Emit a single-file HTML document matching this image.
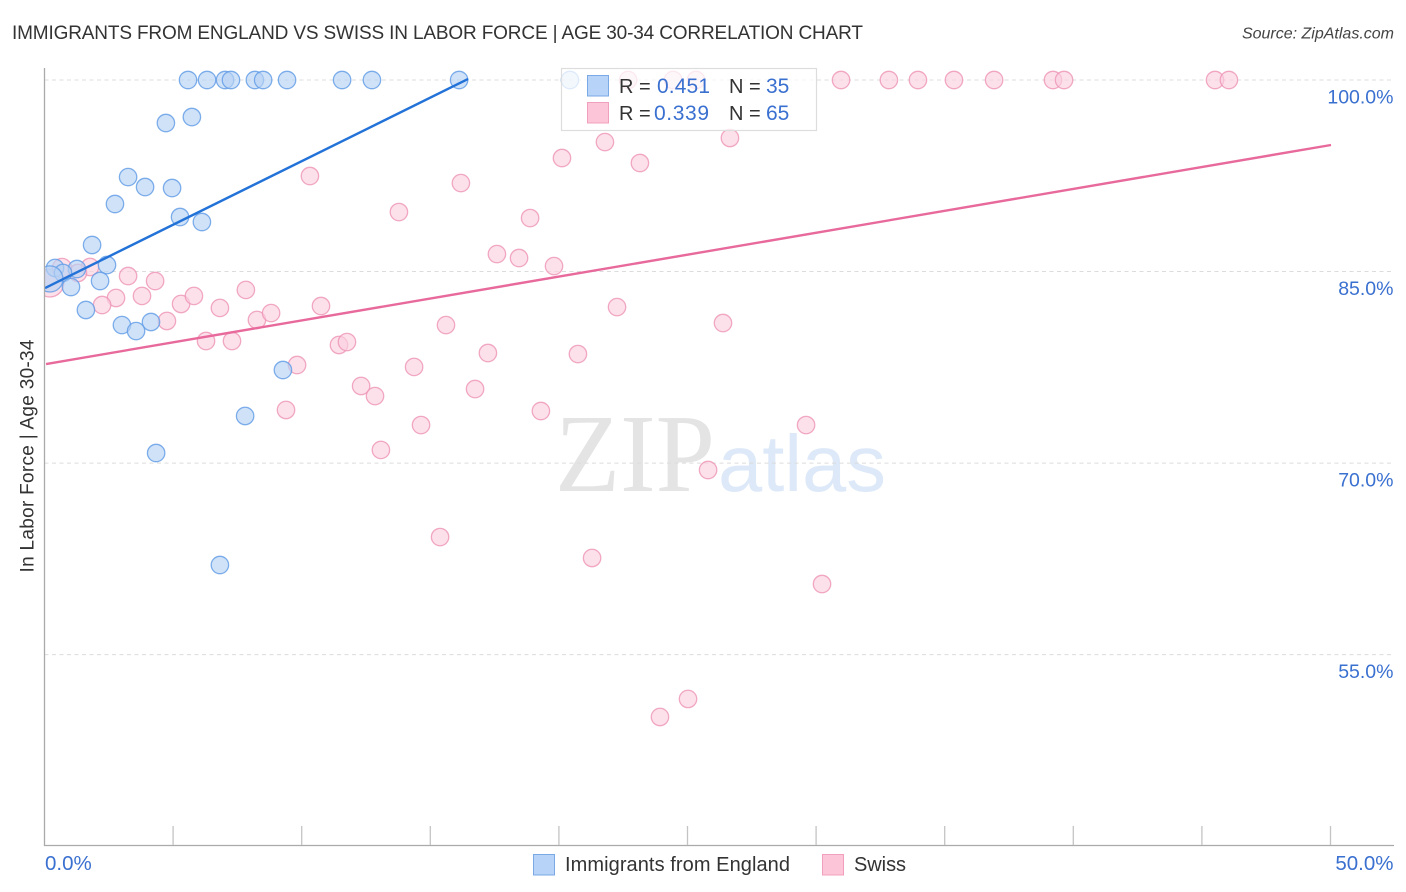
<!DOCTYPE html>
<html lang="en">
<head>
<meta charset="utf-8">
<title>Immigrants from England vs Swiss in Labor Force | Age 30-34 Correlation Chart</title>
<style>
html,body{margin:0;padding:0;background:#fff;}
svg{display:block;font-family:"Liberation Sans",sans-serif;}
</style>
</head>
<body>
<svg id="chart" xmlns="http://www.w3.org/2000/svg" width="1406" height="892" viewBox="0 0 1406 892">
  <defs>
    <clipPath id="plot-clip"><rect x="44.5" y="60" width="1350" height="785"/></clipPath>
  </defs>
  <text x="12" y="39" font-size="19" fill="#333" textLength="851" lengthAdjust="spacing">IMMIGRANTS FROM ENGLAND VS SWISS IN LABOR FORCE | AGE 30-34 CORRELATION CHART</text>
  <text x="1394" y="38.5" font-size="16" font-style="italic" fill="#444" text-anchor="end">Source: ZipAtlas.com</text>

  <g>
    <text x="555" y="491" font-family="'Liberation Serif',serif" font-size="111" fill="#e4e4e4" textLength="160" lengthAdjust="spacingAndGlyphs">ZIP</text>
    <text x="718" y="491" font-family="'Liberation Sans',sans-serif" font-size="80" fill="#dde9f8" textLength="168" lengthAdjust="spacingAndGlyphs">atlas</text>
  </g>

  <g id="grid"></g>
  <g id="points" clip-path="url(#plot-clip)"></g>
  <g id="trends"></g>
  <g id="axes"></g>

  <text transform="translate(33.5,456) rotate(-90)" font-size="19" fill="#333" text-anchor="middle" textLength="233" lengthAdjust="spacing">In Labor Force | Age 30-34</text>

  <g>
    <rect x="561.5" y="68.5" width="255" height="62" fill="#fff" fill-opacity="0.75" stroke="#ddd" stroke-width="1.2"/>
    <rect x="587.5" y="75.5" width="21" height="20.5" fill="#b7d3f7" stroke="#7aa9e6" stroke-width="1"/>
    <rect x="587.5" y="102.5" width="21" height="20.5" fill="#fcc6d8" stroke="#f0a0bc" stroke-width="1"/>
    <g font-size="20">
      <text x="619" y="93" fill="#333">R =</text>
      <text x="657" y="93" fill="#3a70d0" font-size="21" textLength="53" lengthAdjust="spacing">0.451</text>
      <text x="729" y="93" fill="#333">N =</text>
      <text x="766" y="93" fill="#3a70d0" font-size="21">35</text>
      <text x="619" y="120" fill="#333">R =</text>
      <text x="654" y="120" fill="#3a70d0" font-size="21" textLength="55" lengthAdjust="spacing">0.339</text>
      <text x="729" y="120" fill="#333">N =</text>
      <text x="766" y="120" fill="#3a70d0" font-size="21">65</text>
    </g>
  </g>

  <g>
    <rect x="533.5" y="854.5" width="21" height="20.5" fill="#b7d3f7" stroke="#7aa9e6" stroke-width="1"/>
    <text x="565" y="871" font-size="20" fill="#333" textLength="225" lengthAdjust="spacing">Immigrants from England</text>
    <rect x="822.5" y="854.5" width="21" height="20.5" fill="#fcc6d8" stroke="#f0a0bc" stroke-width="1"/>
    <text x="854" y="871" font-size="20" fill="#333" textLength="52" lengthAdjust="spacing">Swiss</text>
  </g>
</svg>
<script>
const yGridValues = [100, 85, 70, 55];
const yTickLabels = ["100.0%", "85.0%", "70.0%", "55.0%"];
const xTickValues = [0, 5, 10, 15, 20, 25, 30, 35, 40, 45, 50];
const xEndLabels = ["0.0%", "50.0%"];

const englandX = [5.58,6.32,7.02,7.25,8.18,8.50,9.43,11.57,12.73,16.12,20.43,4.72,5.73,3.25,3.91,4.96,2.74,5.27,6.12,1.85,1.26,2.43,0.41,0.72,2.16,1.03,1.61,3.01,4.14,3.56,9.27,7.80,4.34,6.82,0.21];
const englandY = [100,100,100,100,100,100,100,100,100,100,100,96.63,97.10,92.40,91.62,91.54,90.29,89.27,88.88,87.08,85.20,85.51,85.28,84.89,84.26,83.79,81.99,80.81,81.05,80.34,77.29,73.69,70.79,62.02,84.42];
const englandWeight = [1,1,1,1,1,1,1,1,1,1,1,1,1,1,1,1,1,1,1,1,1,1,1,1,1,1,1,1,1,1,1,1,1,1,1.5];

const swissX = [22.69,24.44,25.33,30.97,32.83,33.96,35.36,36.92,39.21,39.64,45.51,46.05,20.12,21.79,23.15,26.65,10.32,16.19,13.78,18.88,17.59,18.45,19.81,22.26,26.38,15.61,1.77,1.30,3.25,4.30,2.78,2.24,3.79,5.31,5.81,7.83,6.82,4.76,8.26,8.81,10.75,6.28,7.29,11.45,11.76,17.24,20.74,9.82,14.37,12.31,12.85,16.74,9.39,19.30,14.64,29.61,13.08,25.80,15.38,21.29,30.23,23.93,25.02,0.21,0.68];
const swissY = [100,100,100,100,100,100,100,100,100,100,100,100,93.89,95.14,93.50,95.46,92.48,91.93,89.66,89.19,86.37,86.06,85.43,82.22,80.97,80.81,85.36,84.89,84.65,84.26,82.93,82.38,83.09,82.46,83.09,83.56,82.15,81.13,81.21,81.75,82.30,79.56,79.56,79.25,79.48,78.62,78.54,77.68,77.53,76.04,75.25,75.80,74.16,74.08,72.98,72.98,71.03,69.46,64.21,62.57,60.53,50.12,51.53,84.10,85.28];
const swissWeight = [1,1,1,1,1,1,1,1,1,1,1,1,1,1,1,1,1,1,1,1,1,1,1,1,1,1,1,1,1,1,1,1,1,1,1,1,1,1,1,1,1,1,1,1,1,1,1,1,1,1,1,1,1,1,1,1,1,1,1,1,1,1,1,1.6,1.1];

const englandTrendX = [0.02, 16.47];
const englandTrendY = [83.71, 100.08];
const swissTrendX = [0.06, 50.02];
const swissTrendY = [77.76, 94.91];

const NS = "http://www.w3.org/2000/svg";
const xScale = v => 44.5 + v * 25.72;
const yScale = v => 80 + (100 - v) * 12.77;

function make(tag, attrs, parent) {
  const el = document.createElementNS(NS, tag);
  for (const k in attrs) el.setAttribute(k, attrs[k]);
  parent.appendChild(el);
  return el;
}

const gridG = document.getElementById("grid");
yGridValues.forEach((v, i) => {
  const g = make("line", {x1: 44.5, x2: 1394, y1: yScale(v), y2: yScale(v), stroke: "#dcdcdc", "stroke-width": 1, "stroke-dasharray": "4 3.5"}, gridG);
  
  
  const t = make("text", {x: 1393.5, y: yScale(v) + 23.5, "font-size": 19.5, fill: "#3a70d0", "text-anchor": "end"}, gridG);
  t.textContent = yTickLabels[i];
  
  
});

const ptsG = document.getElementById("points");
function drawSeries(xs, ys, ws, fill, stroke, name) {
  xs.forEach((x, i) => {
    const c = make("circle", {cx: xScale(x), cy: yScale(ys[i]), r: 8.7 * ws[i], fill: fill, "fill-opacity": 0.65, stroke: stroke, "stroke-opacity": 0.8, "stroke-width": 1.3}, ptsG);
    
    
  });
}
drawSeries(swissX, swissY, swissWeight, "#fbcfde", "#ee94b4", "swiss-point");
drawSeries(englandX, englandY, englandWeight, "#b7d3f5", "#5f9be6", "england-point");

const trendG = document.getElementById("trends");
const swissLine = make("line", {x1: xScale(swissTrendX[0]), y1: yScale(swissTrendY[0]), x2: xScale(swissTrendX[1]), y2: yScale(swissTrendY[1]), stroke: "#e8699b", "stroke-width": 2.4}, trendG);


const englandLine = make("line", {x1: xScale(englandTrendX[0]), y1: yScale(englandTrendY[0]), x2: xScale(englandTrendX[1]), y2: yScale(englandTrendY[1]), stroke: "#2272d8", "stroke-width": 2.4}, trendG);



const axesG = document.getElementById("axes");
const yAxis = make("line", {x1: 44.5, x2: 44.5, y1: 68, y2: 846, stroke: "#aaa", "stroke-width": 1.3}, axesG);


const xAxis = make("line", {x1: 44, x2: 1394, y1: 845.5, y2: 845.5, stroke: "#aaa", "stroke-width": 1.3}, axesG);


xTickValues.slice(1).forEach(v => {
  const t = make("line", {x1: xScale(v), x2: xScale(v), y1: 826, y2: 845, stroke: "#c4c4c4", "stroke-width": 1.3}, axesG);
  
  
});
const xLabelLeft = make("text", {x: 45, y: 870, "font-size": 20.5, fill: "#3a70d0"}, axesG);
xLabelLeft.textContent = xEndLabels[0];


const xLabelRight = make("text", {x: 1393.5, y: 870, "font-size": 20.5, fill: "#3a70d0", "text-anchor": "end"}, axesG);
xLabelRight.textContent = xEndLabels[1];


</script>
</body>
</html>
